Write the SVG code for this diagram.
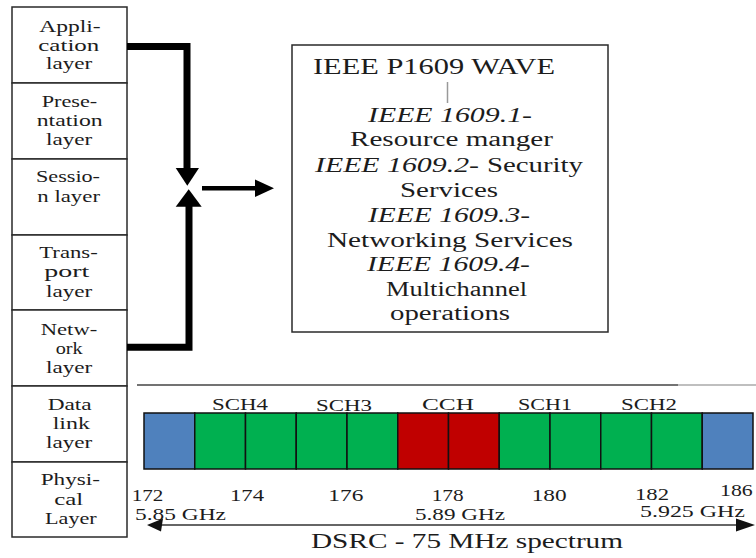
<svg xmlns="http://www.w3.org/2000/svg" width="756" height="558" viewBox="0 0 756 558">
<style>
text{font-family:"Liberation Serif","DejaVu Serif",serif;fill:#1c1c1c}
.l{font-size:17px}
.b{font-size:20px}
.i{font-style:italic}
.h{font-size:23px}
.s{font-size:17px}
.n{font-size:16px}
.d{font-size:22px}
.box{fill:#fff;stroke:#2a2a2a;stroke-width:1.5}
.cell{stroke:#111;stroke-width:1.5}
.blue{fill:#4F81BD}
.green{fill:#00B050}
.red{fill:#C00000}
.thick{fill:none;stroke:#000;stroke-width:7;stroke-linejoin:miter}
</style>
<rect width="756" height="558" fill="#fff"/>

<g id="osi-stack">
<g id="application-layer">
<rect class="box" x="12" y="7" width="115" height="76"/>
<text class="l" x="39.3" y="32" textLength="61.4" lengthAdjust="spacingAndGlyphs">Appli-</text>
<text class="l" x="38.3" y="51" textLength="61" lengthAdjust="spacingAndGlyphs">cation</text>
<text class="l" x="46" y="69" textLength="46.3" lengthAdjust="spacingAndGlyphs">layer</text>
</g>
<g id="presentation-layer">
<rect class="box" x="12" y="83" width="115" height="76"/>
<text class="l" x="41.7" y="107" textLength="55.6" lengthAdjust="spacingAndGlyphs">Prese-</text>
<text class="l" x="36.7" y="126" textLength="66" lengthAdjust="spacingAndGlyphs">ntation</text>
<text class="l" x="46" y="145" textLength="46.3" lengthAdjust="spacingAndGlyphs">layer</text>
</g>
<g id="session-layer">
<rect class="box" x="12" y="159" width="115" height="76"/>
<text class="l" x="36" y="182" textLength="64" lengthAdjust="spacingAndGlyphs">Sessio-</text>
<text class="l" x="37.3" y="202" textLength="62.7" lengthAdjust="spacingAndGlyphs">n layer</text>
</g>
<g id="transport-layer">
<rect class="box" x="12" y="235" width="115" height="75"/>
<text class="l" x="39.3" y="258" textLength="58.4" lengthAdjust="spacingAndGlyphs">Trans-</text>
<text class="l" x="44.3" y="277" textLength="45" lengthAdjust="spacingAndGlyphs">port</text>
<text class="l" x="46" y="297" textLength="46.3" lengthAdjust="spacingAndGlyphs">layer</text>
</g>
<g id="network-layer">
<rect class="box" x="12" y="310" width="115" height="76"/>
<text class="l" x="40.7" y="335" textLength="56.6" lengthAdjust="spacingAndGlyphs">Netw-</text>
<text class="l" x="55.7" y="354" textLength="27" lengthAdjust="spacingAndGlyphs">ork</text>
<text class="l" x="46" y="373" textLength="46.3" lengthAdjust="spacingAndGlyphs">layer</text>
</g>
<g id="data-link-layer">
<rect class="box" x="12" y="386" width="115" height="76"/>
<text class="l" x="47.7" y="410" textLength="44" lengthAdjust="spacingAndGlyphs">Data</text>
<text class="l" x="52.7" y="429" textLength="37.3" lengthAdjust="spacingAndGlyphs">link</text>
<text class="l" x="46" y="448" textLength="46.3" lengthAdjust="spacingAndGlyphs">layer</text>
</g>
<g id="physical-layer">
<rect class="box" x="12" y="462" width="115" height="75"/>
<text class="l" x="40.7" y="485" textLength="59.3" lengthAdjust="spacingAndGlyphs">Physi-</text>
<text class="l" x="54.3" y="505" textLength="29" lengthAdjust="spacingAndGlyphs">cal</text>
<text class="l" x="45" y="524" textLength="51.7" lengthAdjust="spacingAndGlyphs">Layer</text>
</g>
</g>

<g id="connectors">
<polyline class="thick" points="127,46.5 187,46.5 187,170"/>
<polygon points="175.7,168 199,168 187.3,185.7" fill="#000"/>
<polyline class="thick" points="127,347.3 189,347.3 189,204"/>
<polygon points="175.7,206.7 201.7,206.7 188.7,189.3" fill="#000"/>
<line x1="202" y1="188.3" x2="258" y2="188.3" stroke="#000" stroke-width="4.5"/>
<polygon points="255,179.5 274,188.3 255,197" fill="#000"/>
</g>

<g id="wave-box">
<rect class="box" x="292" y="45" width="316" height="287"/>
<text class="h" x="313" y="74" textLength="242" lengthAdjust="spacingAndGlyphs">IEEE P1609 WAVE</text>
<line x1="447.5" y1="82" x2="447.5" y2="103" stroke="#999" stroke-width="1.5"/>
<text class="b i" x="368" y="122" textLength="164" lengthAdjust="spacingAndGlyphs">IEEE 1609.1-</text>
<text class="b" x="350" y="146" textLength="203" lengthAdjust="spacingAndGlyphs">Resource manger</text>
<text class="b i" x="315" y="172" textLength="164" lengthAdjust="spacingAndGlyphs">IEEE 1609.2-</text>
<text class="b" x="487" y="172" textLength="96" lengthAdjust="spacingAndGlyphs">Security</text>
<text class="b" x="400" y="197" textLength="98" lengthAdjust="spacingAndGlyphs">Services</text>
<text class="b i" x="368" y="222" textLength="162" lengthAdjust="spacingAndGlyphs">IEEE 1609.3-</text>
<text class="b" x="327" y="247" textLength="246" lengthAdjust="spacingAndGlyphs">Networking Services</text>
<text class="b i" x="367" y="271" textLength="163" lengthAdjust="spacingAndGlyphs">IEEE 1609.4-</text>
<text class="b" x="386" y="296" textLength="141" lengthAdjust="spacingAndGlyphs">Multichannel</text>
<text class="b" x="390" y="320" textLength="120" lengthAdjust="spacingAndGlyphs">operations</text>
</g>

<g id="spectrum">
<line x1="137" y1="385" x2="678" y2="385" stroke="#444" stroke-width="1.5"/>
<line x1="678" y1="385" x2="756" y2="385" stroke="#aaa" stroke-width="1.5"/>
<g id="channels">
<rect class="cell blue" x="144" y="413" width="50.75" height="56"/>
<rect class="cell green" x="194.75" y="413" width="50.75" height="56"/>
<rect class="cell green" x="245.5" y="413" width="50.75" height="56"/>
<rect class="cell green" x="296.25" y="413" width="50.75" height="56"/>
<rect class="cell green" x="347" y="413" width="50.75" height="56"/>
<rect class="cell red" x="397.75" y="413" width="50.75" height="56"/>
<rect class="cell red" x="448.5" y="413" width="50.75" height="56"/>
<rect class="cell green" x="499.25" y="413" width="50.75" height="56"/>
<rect class="cell green" x="550" y="413" width="50.75" height="56"/>
<rect class="cell green" x="600.75" y="413" width="50.75" height="56"/>
<rect class="cell green" x="651.5" y="413" width="50.75" height="56"/>
<rect class="cell blue" x="702.25" y="413" width="50.75" height="56"/>
</g>
<text class="s" x="212" y="410" textLength="56" lengthAdjust="spacingAndGlyphs">SCH4</text>
<text class="s" x="316" y="411" textLength="56" lengthAdjust="spacingAndGlyphs">SCH3</text>
<text class="s" x="422" y="410" textLength="52" lengthAdjust="spacingAndGlyphs">CCH</text>
<text class="s" x="518" y="410" textLength="54" lengthAdjust="spacingAndGlyphs">SCH1</text>
<text class="s" x="621" y="410" textLength="56" lengthAdjust="spacingAndGlyphs">SCH2</text>

<text class="n" x="131.7" y="500.5" textLength="31.6" lengthAdjust="spacingAndGlyphs">172</text>
<text class="n" x="230" y="500.5" textLength="34" lengthAdjust="spacingAndGlyphs">174</text>
<text class="n" x="328.3" y="500.5" textLength="35" lengthAdjust="spacingAndGlyphs">176</text>
<text class="n" x="431.7" y="500.5" textLength="32" lengthAdjust="spacingAndGlyphs">178</text>
<text class="n" x="531.7" y="500.5" textLength="35" lengthAdjust="spacingAndGlyphs">180</text>
<text class="n" x="635" y="500" textLength="34" lengthAdjust="spacingAndGlyphs">182</text>
<text class="n" x="720" y="496" textLength="32.7" lengthAdjust="spacingAndGlyphs">186</text>

<text class="n" x="135" y="519.5" textLength="91" lengthAdjust="spacingAndGlyphs">5.85 GHz</text>
<text class="n" x="415" y="519.5" textLength="90" lengthAdjust="spacingAndGlyphs">5.89 GHz</text>
<text class="n" x="640" y="517" textLength="105" lengthAdjust="spacingAndGlyphs">5.925 GHz</text>

<line x1="158" y1="525" x2="740" y2="525" stroke="#333" stroke-width="1.5"/>
<polygon points="147,525 163,518.5 161,531.5" fill="#111"/>
<polygon points="755,525 736,518.5 736,531.5" fill="#111"/>

<text class="d" x="311" y="548" textLength="312" lengthAdjust="spacingAndGlyphs">DSRC - 75 MHz spectrum</text>
</g>
</svg>
